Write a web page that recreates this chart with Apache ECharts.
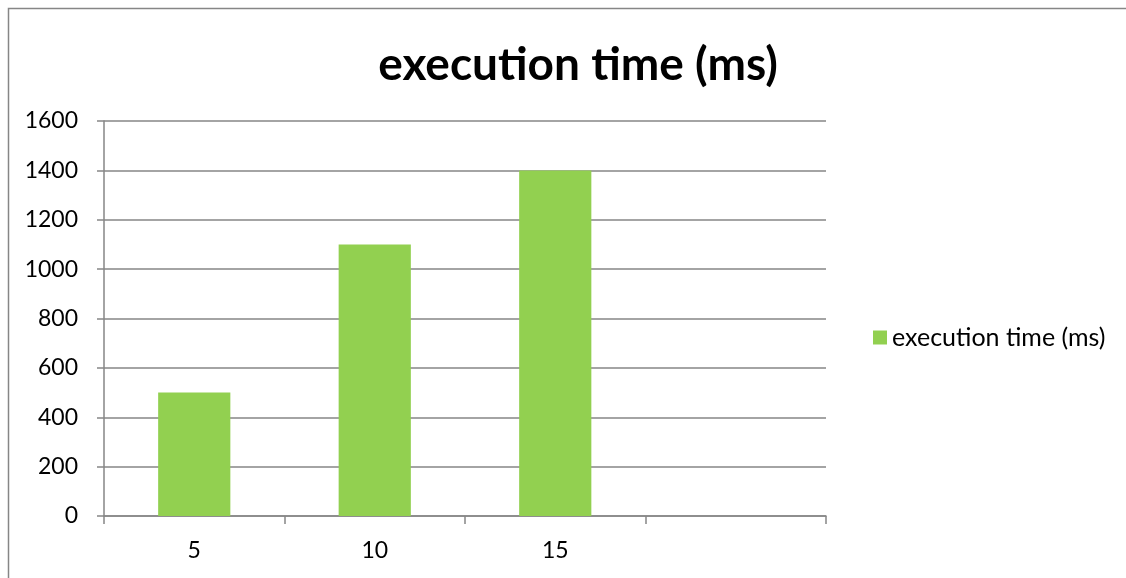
<!DOCTYPE html>
<html>
<head>
<meta charset="utf-8">
<style>
  html, body { margin: 0; padding: 0; background: #ffffff; }
  #chart { width: 1126px; height: 578px; }
</style>
<script src="https://cdn.jsdelivr.net/npm/echarts@6/dist/echarts.min.js"></script>
</head>
<body>
<div id="chart"></div>
<script>
// Batch sizes on the category axis (last slot left empty)
const categories = ['5', '10', '15', ''];
// Measured execution time per batch size, in milliseconds
const executionTime = [500, 1100, 1400, null];
const seriesName = 'execution time (ms)';
const chartTitle = 'execution time (ms)';

const FONT = 'Lato, "Open Sans", sans-serif';
const AXIS_GRAY = '#868686';

const chart = echarts.init(document.getElementById('chart'), null, { renderer: 'canvas' });

chart.setOption({
  backgroundColor: '#ffffff',
  animation: false,
  title: {
    text: chartTitle,
    left: 573,
    textAlign: 'center',
    top: 37,
    textStyle: { fontFamily: FONT, fontWeight: 'bold', fontSize: 46, color: '#000000' }
  },
  legend: {
    data: [seriesName],
    orient: 'vertical',
    left: 868,
    top: 320,
    icon: 'rect',
    itemWidth: 14,
    itemHeight: 14,
    textStyle: { fontFamily: FONT, fontSize: 25, color: '#000000' }
  },
  graphic: [{
    type: 'rect',
    shape: { x: 8.5, y: 8.5, width: 1300, height: 800 },
    style: { fill: 'none', stroke: AXIS_GRAY, lineWidth: 1.5 },
    silent: true
  }],
  grid: { left: 104, right: 300, top: 121, bottom: 62 },
  xAxis: {
    type: 'category',
    data: categories,
    boundaryGap: true,
    axisLine: { show: true, lineStyle: { color: AXIS_GRAY, width: 1.5 } },
    axisTick: { show: true, length: 8, alignWithLabel: false, lineStyle: { color: AXIS_GRAY, width: 1.5 } },
    axisLabel: { margin: 23, fontFamily: FONT, fontSize: 23, color: '#000000' },
    splitLine: { show: false }
  },
  yAxis: {
    type: 'value',
    min: 0,
    max: 1600,
    interval: 200,
    axisLine: { show: true, lineStyle: { color: AXIS_GRAY, width: 1.5 } },
    axisTick: { show: true, length: 7, lineStyle: { color: AXIS_GRAY, width: 1.5 } },
    axisLabel: {
      margin: 26,
      fontFamily: FONT,
      fontSize: 23,
      color: '#000000',
      formatter: function (v) { return String(v); }
    },
    splitLine: { show: true, lineStyle: { color: AXIS_GRAY, width: 1.5 } }
  },
  series: [{
    name: seriesName,
    type: 'bar',
    data: executionTime,
    barWidth: '40%',
    itemStyle: { color: '#92D050' }
  }]
});
</script>
</body>
</html>
